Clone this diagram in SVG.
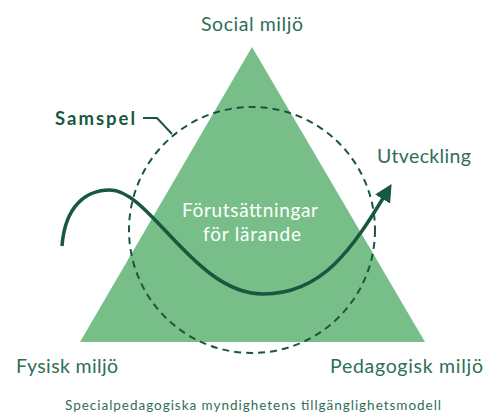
<svg xmlns="http://www.w3.org/2000/svg" width="496" height="412" viewBox="0 0 496 412">
<style>
.lbl{font-family:Lato,"Open Sans","DejaVu Sans",sans-serif;font-size:19.5px;fill:#2f6e57}
.inner{font-family:Lato,"Open Sans","DejaVu Sans",sans-serif;font-size:19px;fill:#ffffff}
.dark{stroke:#17583f;fill:none}
</style>
<defs>
<marker id="arr" viewBox="0 0 10 10" refX="6" refY="5" markerWidth="5" markerHeight="5" orient="auto" markerUnits="strokeWidth">
<path d="M0,0 L10,5 L0,10 z" fill="#17583f"/>
</marker>
</defs>
<rect width="496" height="412" fill="#ffffff"/>
<g id="triangle">
<polygon points="252,47 80,342 425,342" fill="#77be89"/>
</g>
<g id="circle">
<circle cx="252" cy="230" r="123" class="dark" stroke-width="2" stroke-dasharray="7,5"/>
</g>
<g id="connectors">
<path id="wave" class="dark" stroke-width="3.5" d="M62,246 C65,206 86,190 110,190 C150,190 195,294 263,294 C322,294 352,250 388,190" marker-end="url(#arr)"/>
<path id="samspel-leader" class="dark" stroke-width="2" d="M143,118 H157 L172,134"/>
</g>
<g id="social"><text class="lbl" x="252" y="31" text-anchor="middle" textLength="102">Social miljö</text></g>
<g id="samspel"><text x="55" y="125" font-family="Lato,'Open Sans',sans-serif" font-weight="bold" font-size="18.5" fill="#17583f" textLength="80">Samspel</text></g>
<g id="utveckling"><text class="lbl" x="377" y="163" textLength="94">Utveckling</text></g>
<g id="center"><text class="inner" x="250" y="217" text-anchor="middle" textLength="136">Förutsättningar</text>
<text class="inner" x="252" y="241" text-anchor="middle" textLength="98">för lärande</text></g>
<g id="fysisk"><text class="lbl" x="16" y="373" textLength="102">Fysisk miljö</text></g>
<g id="pedagogisk"><text class="lbl" x="330" y="373" textLength="153">Pedagogisk miljö</text></g>
<g id="caption"><text x="65" y="410" font-family="Lato,'Open Sans',sans-serif" font-size="13.5" fill="#2f6e57" textLength="376">Specialpedagogiska myndighetens tillgänglighetsmodell</text></g>
</svg>
